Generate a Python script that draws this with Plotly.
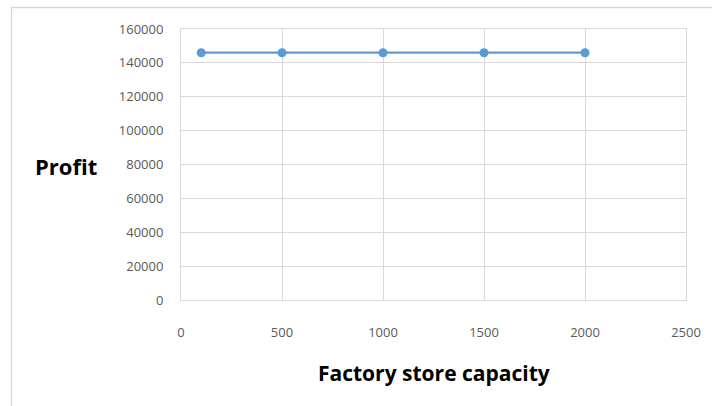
import plotly.graph_objects as go

# Profit versus factory store capacity
capacity = [100, 500, 1000, 1500, 2000]
profit = [146000, 146000, 146000, 146000, 146000]

x_ticks = [0, 500, 1000, 1500, 2000, 2500]
y_ticks = [0, 20000, 40000, 60000, 80000, 100000, 120000, 140000, 160000]

line_color = "#5b9bd5"
grid_color = "#d9d9d9"
tick_color = "#595959"
font_family = "Open Sans, Noto Sans, sans-serif"

fig = go.Figure()
fig.add_trace(go.Scatter(
    x=capacity, y=profit, mode="lines+markers",
    line=dict(color=line_color, width=2.25),
    marker=dict(color=line_color, size=9),
    showlegend=False,
))

axis_common = dict(
    showgrid=True, gridcolor=grid_color, gridwidth=1,
    showline=True, linecolor=grid_color, linewidth=1, mirror=True,
    zeroline=False, ticks="", tickformat="d",
    tickfont=dict(family=font_family, size=13, color=tick_color),
)

fig.update_xaxes(range=[0, 2500], tickvals=x_ticks, ticklabelstandoff=20, **axis_common)
fig.update_yaxes(range=[0, 160000], tickvals=y_ticks, ticklabelstandoff=14, **axis_common)

fig.update_layout(
    width=712, height=406,
    margin=dict(l=181, r=26, t=29, b=106),
    paper_bgcolor="white", plot_bgcolor="white",
    annotations=[
        dict(text="<b>Profit</b>", xref="paper", yref="paper",
             x=(66 - 181) / 505, y=(300 - 166) / 271,
             xanchor="center", yanchor="middle", showarrow=False,
             font=dict(family=font_family, size=22, color="black")),
        dict(text="<b>Factory store capacity</b>", xref="paper", yref="paper",
             x=(434 - 181) / 505, y=(300 - 373) / 271,
             xanchor="center", yanchor="middle", showarrow=False,
             font=dict(family=font_family, size=21, color="black")),
    ],
    shapes=[
        # outer chart frame (top and left edges visible)
        dict(type="rect", xref="paper", yref="paper",
             x0=(11.5 - 181) / 505, x1=1.2,
             y0=-0.5, y1=(300 - 7.5) / 271,
             line=dict(color=grid_color, width=1.5), layer="below"),
    ],
)

fig.write_html("out.html")
